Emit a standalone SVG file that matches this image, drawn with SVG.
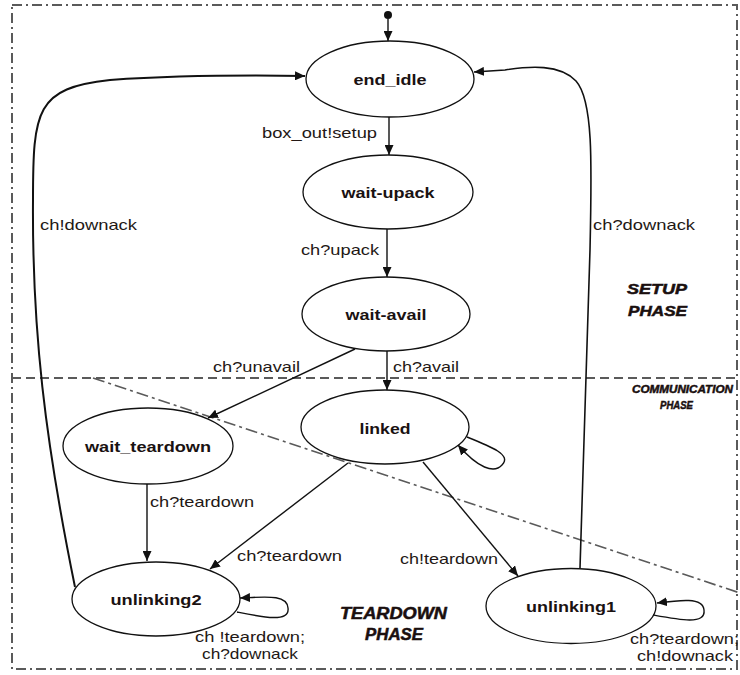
<svg xmlns="http://www.w3.org/2000/svg" width="740" height="675" viewBox="0 0 740 675">
  <style>
    .state ellipse { fill: #ffffff; stroke: #111111; stroke-width: 1.3; }
    .state text { font-family: "Liberation Sans", Arial, sans-serif; font-weight: bold; font-size: 15px; fill: #1a1212; text-anchor: middle; }
    .edge { fill: none; stroke: #111111; stroke-width: 1.4; }
    .lbl { font-family: "Liberation Sans", Arial, sans-serif; font-size: 15px; fill: #231815; }
    .phase { font-family: "Liberation Sans", Arial, sans-serif; font-weight: bold; font-style: italic; fill: #1a0f0f; stroke: #1a0f0f; stroke-width: 0.5; }
    .frame { fill: none; stroke: #5a5a5a; stroke-width: 2; stroke-dasharray: 10 4 2 4; }
    .split { fill: none; stroke: #5a5a5a; stroke-width: 2; stroke-dasharray: 9 5; }
    .diag { fill: none; stroke: #5a5a5a; stroke-width: 1.6; stroke-dasharray: 12 4 3 4; }
  </style>
  <defs>
    <marker id="arrow" markerUnits="userSpaceOnUse" markerWidth="11" markerHeight="9" refX="10" refY="4.5" orient="auto">
      <path d="M0,0 L10,4.5 L0,9 z" fill="#111111"/>
    </marker>
  </defs>

  <rect width="740" height="675" fill="#ffffff"/>

  <!-- phase boundaries -->
  <g id="phases">
    <rect class="frame" x="12" y="5" width="725" height="664"/>
    <line class="split" x1="12" y1="378" x2="737" y2="378"/>
    <line class="diag" x1="93" y1="378" x2="740" y2="593"/>
    <text class="phase" font-size="14" x="627" y="294" textLength="60" lengthAdjust="spacingAndGlyphs">SETUP</text>
    <text class="phase" font-size="14" x="628" y="316" textLength="59" lengthAdjust="spacingAndGlyphs">PHASE</text>
    <text class="phase" font-size="11" x="632" y="393" textLength="101" lengthAdjust="spacingAndGlyphs">COMMUNICATION</text>
    <text class="phase" font-size="11" x="660" y="409" textLength="33" lengthAdjust="spacingAndGlyphs">PHASE</text>
    <text class="phase" font-size="16" x="340" y="619" textLength="107" lengthAdjust="spacingAndGlyphs">TEARDOWN</text>
    <text class="phase" font-size="16" x="365" y="640" textLength="58" lengthAdjust="spacingAndGlyphs">PHASE</text>
  </g>

  <!-- states -->
  <g id="start">
    <circle cx="388" cy="15" r="4" fill="#111111"/>
  </g>
  <g id="end_idle" class="state">
    <ellipse cx="390" cy="79" rx="84" ry="38"/>
    <text x="390" y="85" textLength="73" lengthAdjust="spacingAndGlyphs">end_idle</text>
  </g>
  <g id="wait-upack" class="state">
    <ellipse cx="388" cy="192" rx="85" ry="37"/>
    <text x="388" y="198" textLength="93" lengthAdjust="spacingAndGlyphs">wait-upack</text>
  </g>
  <g id="wait-avail" class="state">
    <ellipse cx="386" cy="314" rx="84" ry="37"/>
    <text x="386" y="320" textLength="81" lengthAdjust="spacingAndGlyphs">wait-avail</text>
  </g>
  <g id="linked" class="state">
    <ellipse cx="385" cy="427" rx="84" ry="37"/>
    <text x="385" y="434" textLength="51" lengthAdjust="spacingAndGlyphs">linked</text>
  </g>
  <g id="wait_teardown" class="state">
    <ellipse cx="148" cy="446" rx="85" ry="38"/>
    <text x="148" y="452" textLength="126" lengthAdjust="spacingAndGlyphs">wait_teardown</text>
  </g>
  <g id="unlinking2" class="state">
    <ellipse cx="156" cy="599" rx="84" ry="37"/>
    <text x="156" y="605" textLength="91" lengthAdjust="spacingAndGlyphs">unlinking2</text>
  </g>
  <g id="unlinking1" class="state">
    <ellipse cx="571" cy="606" rx="85" ry="37.5"/>
    <text x="571" y="612" textLength="90" lengthAdjust="spacingAndGlyphs">unlinking1</text>
  </g>

  <!-- transitions -->
  <g id="connectors">
    <path class="edge" marker-end="url(#arrow)" d="M388,19 L388,41"/>
    <path class="edge" marker-end="url(#arrow)" d="M389,117 L389,155"/>
    <path class="edge" marker-end="url(#arrow)" d="M387,229 L387,277"/>
    <path class="edge" marker-end="url(#arrow)" d="M387,351 L387,390"/>
    <path class="edge" marker-end="url(#arrow)" d="M355,349 L208,418"/>
    <path class="edge" marker-end="url(#arrow)" d="M147,484 L147,561"/>
    <path class="edge" marker-end="url(#arrow)" d="M348,463 L210,569"/>
    <path class="edge" marker-end="url(#arrow)" d="M423,462 L518,576"/>
    <path class="edge" marker-end="url(#arrow)" d="M467,437 C492,447 512,455 502,465 C494,474 478,468 458,445"/>
    <path class="edge" marker-end="url(#arrow)" d="M237,612 C262,617 290,623 288,608 C287,594 265,597 240,598"/>
    <path class="edge" marker-end="url(#arrow)" d="M653,615 C680,620 706,625 704,610 C703,597 680,600 657,603"/>
    <path class="edge" style="stroke-width:2" marker-end="url(#arrow)" d="M75,587 C45,440 32,330 33,200 C33,110 36,88 110,80 C170,76 240,75 305,76"/>
    <path class="edge" style="stroke-width:1.6" marker-end="url(#arrow)" d="M580,568 L590,250 C592,160 593,100 576,81 C560,64 530,66 505,70 L474,72"/>

    <text class="lbl" x="262" y="138" textLength="115" lengthAdjust="spacingAndGlyphs">box_out!setup</text>
    <text class="lbl" x="301" y="255" textLength="78" lengthAdjust="spacingAndGlyphs">ch?upack</text>
    <text class="lbl" x="213" y="372" textLength="87" lengthAdjust="spacingAndGlyphs">ch?unavail</text>
    <text class="lbl" x="393" y="372" textLength="66" lengthAdjust="spacingAndGlyphs">ch?avail</text>
    <text class="lbl" x="40" y="230" textLength="97" lengthAdjust="spacingAndGlyphs">ch!downack</text>
    <text class="lbl" x="593" y="230" textLength="102" lengthAdjust="spacingAndGlyphs">ch?downack</text>
    <text class="lbl" x="150" y="507" textLength="104" lengthAdjust="spacingAndGlyphs">ch?teardown</text>
    <text class="lbl" x="237" y="561" textLength="105" lengthAdjust="spacingAndGlyphs">ch?teardown</text>
    <text class="lbl" x="400" y="564" textLength="98" lengthAdjust="spacingAndGlyphs">ch!teardown</text>
    <text class="lbl" x="195" y="642" textLength="110" lengthAdjust="spacingAndGlyphs">ch !teardown;</text>
    <text class="lbl" x="202" y="659" textLength="96" lengthAdjust="spacingAndGlyphs">ch?downack</text>
    <text class="lbl" x="630" y="644" textLength="109" lengthAdjust="spacingAndGlyphs">ch?teardown;</text>
    <text class="lbl" x="637" y="661" textLength="96" lengthAdjust="spacingAndGlyphs">ch!downack</text>
  </g>
</svg>
